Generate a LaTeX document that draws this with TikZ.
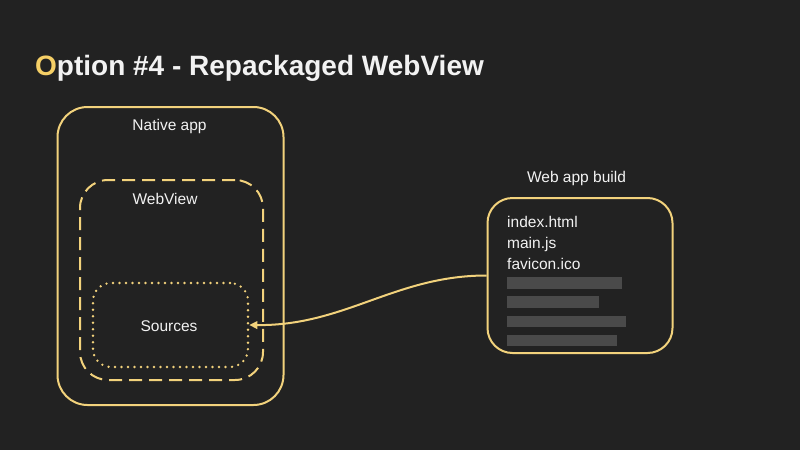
\documentclass[tikz,border=0pt]{standalone}
\usepackage{fontspec}
\setmainfont{Liberation Sans}
\usetikzlibrary{arrows.meta}
\definecolor{bg}{HTML}{222222}
\definecolor{gold}{HTML}{F2D27C}
\definecolor{titlegold}{HTML}{F5CF66}
\definecolor{txt}{HTML}{F2F2F2}
\definecolor{bar}{HTML}{4A4A4A}
\begin{document}
\begin{tikzpicture}[x=1pt,y=-1pt,
  frame/.style={draw=gold, line width=2pt, rectangle, inner sep=0pt},
  lbl/.style={text=txt, font=\fontsize{15.5}{18}\selectfont, inner sep=0pt, anchor=base},
  filelbl/.style={text=txt, font=\fontsize{15.5}{18}\selectfont, inner sep=0pt, anchor=base west},
  barbox/.style={fill=bar, draw=none, rectangle, inner sep=0pt, anchor=north west, minimum height=11.5pt},
  conn/.style={draw=gold, line width=2pt, -{Triangle[length=8pt,width=7.5pt]}}
]
\fill[bg] (0,0) rectangle (800,450);
\useasboundingbox (0,0) rectangle (800,450);

% title
\node[anchor=base west, inner sep=0pt, text=txt, font=\bfseries\fontsize{28}{34}\selectfont] (title) at (35,75) {\textcolor{titlegold}{O}ption \#4 - Repackaged WebView};

% native app
\node[frame, rounded corners=30pt, minimum width=226pt, minimum height=298pt] (native) at (170.5,256) {};
\node[lbl] (nativelbl) at (169.5,130) {Native app};

% webview
\node[frame, dash pattern=on 13pt off 7pt, rounded corners=28pt, minimum width=183pt, minimum height=200pt] (webview) at (171.5,280) {};
\node[lbl] (webviewlbl) at (165,204) {WebView};

% sources
\node[frame, line width=2.6pt, line cap=round, dash pattern=on 0pt off 6.5pt, rounded corners=18pt, minimum width=155pt, minimum height=84pt] (sources) at (170.5,325) {};
\node[lbl] (sourceslbl) at (169,331) {Sources};

% web app build
\node[frame, rounded corners=25pt, minimum width=185pt, minimum height=155pt] (build) at (580,275.5) {};
\node[lbl] (buildlbl) at (576.5,182.5) {Web app build};
\node[filelbl] (f1) at (507,227) {index.html};
\node[filelbl] (f2) at (507,248) {main.js};
\node[filelbl] (f3) at (507,269) {favicon.ico};
\node[barbox, minimum width=115pt] (b1) at (507,277) {};
\node[barbox, minimum width=92pt] (b2) at (507,296) {};
\node[barbox, minimum width=119pt] (b3) at (507,315.5) {};
\node[barbox, minimum width=110pt] (b4) at (507,334.5) {};

% connector
\draw[conn] (build.west) .. controls (395,275.5) and (345,326) .. (sources.east);
\end{tikzpicture}
\end{document}
